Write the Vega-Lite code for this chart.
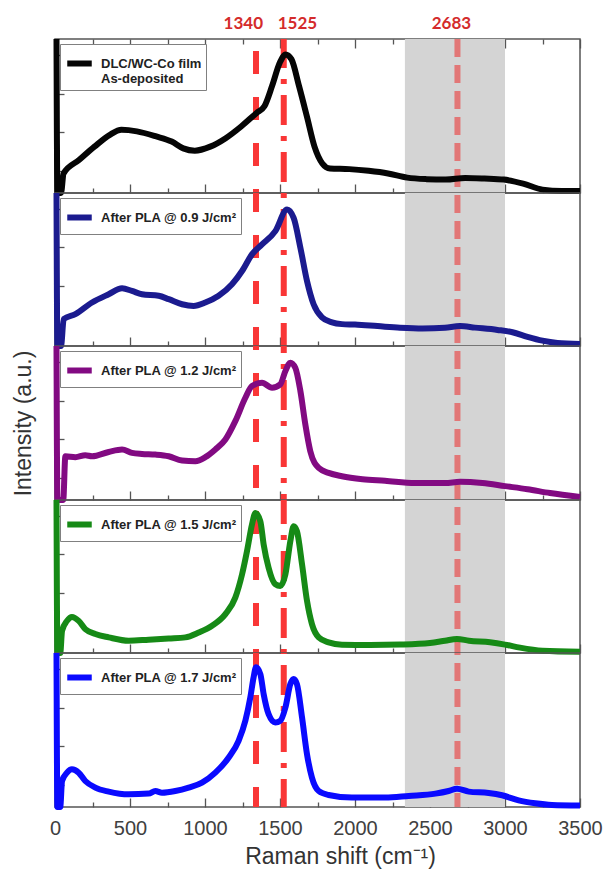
{
"$schema": "https://vega.github.io/schema/vega-lite/v6.json",
"autosize": {"type": "pad"},
"padding": {"left": 11, "top": 14, "right": 4, "bottom": 5},
"spacing": 0,
"bounds": "flush",
"datasets": {
"band": [{"x": 2333, "lo": 0, "hi": 1}, {"x": 3000, "lo": 0, "hi": 1}],
"peaks": [{"band": "D", "shift": 1340}, {"band": "G", "shift": 1525}, {"band": "2D", "shift": 2683}],
"p1": [{"x":10,"y":1.0},{"x":16,"y":0.0},{"x":40,"y":0.0},{"x":57,"y":0.127},{"x":160,"y":0.214},{"x":263,"y":0.301},{"x":366,"y":0.378},{"x":443,"y":0.41},{"x":546,"y":0.40},{"x":675,"y":0.367},{"x":778,"y":0.334},{"x":855,"y":0.29},{"x":932,"y":0.275},{"x":1035,"y":0.301},{"x":1138,"y":0.356},{"x":1241,"y":0.432},{"x":1344,"y":0.52},{"x":1396,"y":0.563},{"x":1447,"y":0.694},{"x":1499,"y":0.847},{"x":1537,"y":0.90},{"x":1576,"y":0.869},{"x":1627,"y":0.694},{"x":1679,"y":0.498},{"x":1730,"y":0.301},{"x":1782,"y":0.192},{"x":1833,"y":0.159},{"x":1962,"y":0.155},{"x":2091,"y":0.144},{"x":2220,"y":0.127},{"x":2348,"y":0.10},{"x":2477,"y":0.09},{"x":2606,"y":0.087},{"x":2735,"y":0.098},{"x":2863,"y":0.094},{"x":2992,"y":0.087},{"x":3121,"y":0.061},{"x":3250,"y":0.022},{"x":3378,"y":0.013},{"x":3500,"y":0.013}],
"p2": [{"x":10,"y":1.0},{"x":16,"y":0.0},{"x":40,"y":0.0},{"x":58,"y":0.176},{"x":136,"y":0.208},{"x":247,"y":0.284},{"x":358,"y":0.338},{"x":447,"y":0.377},{"x":513,"y":0.36},{"x":580,"y":0.338},{"x":691,"y":0.328},{"x":758,"y":0.306},{"x":847,"y":0.273},{"x":924,"y":0.262},{"x":1002,"y":0.284},{"x":1091,"y":0.328},{"x":1180,"y":0.403},{"x":1247,"y":0.49},{"x":1313,"y":0.599},{"x":1380,"y":0.664},{"x":1469,"y":0.751},{"x":1547,"y":0.892},{"x":1591,"y":0.837},{"x":1636,"y":0.642},{"x":1680,"y":0.425},{"x":1724,"y":0.273},{"x":1780,"y":0.187},{"x":1847,"y":0.154},{"x":1913,"y":0.143},{"x":2000,"y":0.14},{"x":2150,"y":0.13},{"x":2300,"y":0.12},{"x":2450,"y":0.115},{"x":2600,"y":0.12},{"x":2700,"y":0.13},{"x":2800,"y":0.12},{"x":2950,"y":0.105},{"x":3050,"y":0.09},{"x":3150,"y":0.06},{"x":3250,"y":0.035},{"x":3350,"y":0.02},{"x":3500,"y":0.013}],
"p3": [{"x":10,"y":1.0},{"x":16,"y":0.0},{"x":55,"y":0.0},{"x":69,"y":0.284},{"x":136,"y":0.278},{"x":202,"y":0.291},{"x":247,"y":0.284},{"x":358,"y":0.312},{"x":447,"y":0.328},{"x":513,"y":0.306},{"x":580,"y":0.299},{"x":669,"y":0.295},{"x":758,"y":0.284},{"x":847,"y":0.256},{"x":936,"y":0.252},{"x":1002,"y":0.278},{"x":1069,"y":0.328},{"x":1136,"y":0.393},{"x":1202,"y":0.512},{"x":1269,"y":0.664},{"x":1313,"y":0.74},{"x":1380,"y":0.761},{"x":1447,"y":0.729},{"x":1502,"y":0.751},{"x":1536,"y":0.837},{"x":1569,"y":0.892},{"x":1602,"y":0.859},{"x":1636,"y":0.707},{"x":1669,"y":0.49},{"x":1702,"y":0.317},{"x":1758,"y":0.208},{"x":1824,"y":0.176},{"x":1913,"y":0.154},{"x":2050,"y":0.135},{"x":2200,"y":0.125},{"x":2400,"y":0.11},{"x":2600,"y":0.11},{"x":2700,"y":0.118},{"x":2850,"y":0.11},{"x":3000,"y":0.09},{"x":3150,"y":0.07},{"x":3300,"y":0.045},{"x":3500,"y":0.02}],
"p4": [{"x":10,"y":1.0},{"x":16,"y":0.0},{"x":35,"y":0.0},{"x":47,"y":0.145},{"x":80,"y":0.21},{"x":113,"y":0.236},{"x":158,"y":0.21},{"x":202,"y":0.156},{"x":269,"y":0.124},{"x":358,"y":0.102},{"x":491,"y":0.08},{"x":624,"y":0.087},{"x":758,"y":0.095},{"x":869,"y":0.102},{"x":958,"y":0.134},{"x":1047,"y":0.178},{"x":1136,"y":0.254},{"x":1202,"y":0.362},{"x":1247,"y":0.514},{"x":1280,"y":0.666},{"x":1313,"y":0.839},{"x":1336,"y":0.915},{"x":1369,"y":0.861},{"x":1391,"y":0.709},{"x":1424,"y":0.557},{"x":1469,"y":0.449},{"x":1502,"y":0.438},{"x":1536,"y":0.514},{"x":1569,"y":0.731},{"x":1591,"y":0.829},{"x":1613,"y":0.796},{"x":1647,"y":0.579},{"x":1680,"y":0.341},{"x":1713,"y":0.189},{"x":1758,"y":0.102},{"x":1824,"y":0.069},{"x":1913,"y":0.054},{"x":2100,"y":0.052},{"x":2300,"y":0.055},{"x":2500,"y":0.065},{"x":2600,"y":0.08},{"x":2680,"y":0.092},{"x":2760,"y":0.08},{"x":2900,"y":0.07},{"x":3000,"y":0.055},{"x":3100,"y":0.035},{"x":3250,"y":0.015},{"x":3500,"y":0.008}],
"p5": [{"x":10,"y":1.0},{"x":16,"y":0.0},{"x":35,"y":0.0},{"x":47,"y":0.169},{"x":80,"y":0.223},{"x":113,"y":0.245},{"x":158,"y":0.223},{"x":202,"y":0.169},{"x":269,"y":0.126},{"x":358,"y":0.1},{"x":491,"y":0.082},{"x":624,"y":0.087},{"x":669,"y":0.104},{"x":713,"y":0.093},{"x":802,"y":0.104},{"x":891,"y":0.126},{"x":980,"y":0.158},{"x":1069,"y":0.223},{"x":1158,"y":0.321},{"x":1224,"y":0.43},{"x":1269,"y":0.56},{"x":1302,"y":0.711},{"x":1324,"y":0.842},{"x":1340,"y":0.907},{"x":1369,"y":0.863},{"x":1391,"y":0.733},{"x":1424,"y":0.603},{"x":1469,"y":0.549},{"x":1502,"y":0.56},{"x":1536,"y":0.646},{"x":1569,"y":0.798},{"x":1591,"y":0.831},{"x":1613,"y":0.798},{"x":1647,"y":0.581},{"x":1680,"y":0.343},{"x":1713,"y":0.191},{"x":1758,"y":0.104},{"x":1824,"y":0.078},{"x":1980,"y":0.061},{"x":2202,"y":0.061},{"x":2358,"y":0.072},{"x":2536,"y":0.087},{"x":2624,"y":0.104},{"x":2680,"y":0.119},{"x":2758,"y":0.1},{"x":2891,"y":0.091},{"x":2980,"y":0.076},{"x":3091,"y":0.043},{"x":3202,"y":0.024},{"x":3313,"y":0.013},{"x":3500,"y":0.009}]
},
"resolve": {"scale": {"color": "independent", "y": "independent"}, "legend": {"color": "independent"}},
"vconcat": [
{
"width": 525, "height": 154,
"resolve": {"axis": {"x": "independent"}},
"layer": [
{"data": {"name": "band"}, "mark": {"type": "area", "color": "#d4d4d4", "opacity": 1},
 "encoding": {"x": {"field": "x", "type": "quantitative", "scale": {"domain": [0, 3500], "nice": false},
   "axis": {"orient": "bottom", "values": [250,750,1250,1750,2250,2750,3250], "tickSize": -5, "labels": false, "title": null}},
  "y": {"field": "hi", "type": "quantitative", "scale": {"domain": [0, 1], "nice": false, "zero": false}, "axis": {"values": [0.143, 0.394, 0.645, 0.896], "tickSize": -9, "labels": false, "title": null}}, "y2": {"field": "lo"}}},
{"data": {"name": "band"}, "mark": {"type": "area", "color": "#d4d4d4", "opacity": 1},
 "encoding": {"x": {"field": "x", "type": "quantitative", "axis": null},
  "y": {"field": "hi", "type": "quantitative", "axis": {"values": [0.143, 0.394, 0.645, 0.896], "tickSize": -9, "labels": false, "title": null}}, "y2": {"field": "lo"}}},
{"data": {"name": "peaks"}, "transform": [{"filter": "datum.shift == 1340"}], "mark": {"type": "rule", "color": "#f93636", "strokeWidth": 6, "strokeDash": [23, 23], "strokeDashOffset": 34}, "encoding": {"x": {"field": "shift", "type": "quantitative", "axis": null}}},
{"data": {"name": "peaks"}, "transform": [{"filter": "datum.shift == 1525"}], "mark": {"type": "rule", "color": "#f93636", "strokeWidth": 6, "strokeDash": [30, 11, 5, 11], "strokeDashOffset": 1}, "encoding": {"x": {"field": "shift", "type": "quantitative", "axis": null}}},
{"data": {"name": "peaks"}, "transform": [{"filter": "datum.shift == 2683"}], "mark": {"type": "rule", "color": "#e27777", "strokeWidth": 6, "strokeDash": [18, 8], "strokeDashOffset": 0}, "encoding": {"x": {"field": "shift", "type": "quantitative", "axis": null}}},
{"data": {"name": "peaks"}, "transform": [{"filter": "datum.shift == 1340"}], "mark": {"type": "text", "font": "Lato", "fontWeight": "bold", "fontSize": 17, "color": "#d42b2b", "align": "right", "baseline": "alphabetic", "dx": 7}, "encoding": {"x": {"field": "shift", "type": "quantitative", "axis": {"orient": "top", "values": [0,500,1000,1500,2000,2500,3000,3500], "tickSize": -9, "labels": false, "title": null}}, "y": {"datum": 1.065, "type": "quantitative"}, "text": {"field": "shift", "type": "quantitative", "format": "d"}}},
{"data": {"name": "peaks"}, "transform": [{"filter": "datum.shift == 1525"}], "mark": {"type": "text", "font": "Lato", "fontWeight": "bold", "fontSize": 17, "color": "#d42b2b", "align": "left", "baseline": "alphabetic", "dx": -6}, "encoding": {"x": {"field": "shift", "type": "quantitative", "axis": {"orient": "top", "values": [250,750,1250,1750,2250,2750,3250], "tickSize": -5, "labels": false, "title": null}}, "y": {"datum": 1.065, "type": "quantitative"}, "text": {"field": "shift", "type": "quantitative", "format": "d"}}},
{"data": {"name": "peaks"}, "transform": [{"filter": "datum.shift == 2683"}], "mark": {"type": "text", "font": "Lato", "fontWeight": "bold", "fontSize": 17, "color": "#d42b2b", "align": "center", "baseline": "alphabetic", "dx": -6}, "encoding": {"x": {"field": "shift", "type": "quantitative", "axis": null}, "y": {"datum": 1.065, "type": "quantitative"}, "text": {"field": "shift", "type": "quantitative", "format": "d"}}},
{"data": {"name": "p1"}, "mark": {"type": "line", "strokeWidth": 6, "interpolate": "monotone", "strokeJoin": "round"},
 "encoding": {
  "x": {"field": "x", "type": "quantitative", "scale": {"domain": [0, 3500], "nice": false},
   "axis": {"orient": "bottom", "values": [0,500,1000,1500,2000,2500,3000,3500], "tickSize": -9, "labels": false, "title": null}},
  "y": {"field": "y", "type": "quantitative", "scale": {"domain": [0, 1], "nice": false, "zero": false},
   "axis": {"values": [0.143, 0.394, 0.645, 0.896], "tickSize": -9, "labels": false, "title": null}},
  "color": {"datum": "DLC/WC-Co film", "scale": {"range": ["#050505"]}, "legend": {"labelExpr": "['DLC/WC-Co film', 'As-deposited']"}}}}
]
},
{
"width": 525, "height": 153,
"resolve": {"axis": {"x": "independent"}},
"layer": [
{"data": {"name": "band"}, "mark": {"type": "area", "color": "#d4d4d4", "opacity": 1}, "encoding": {"x": {"field": "x", "type": "quantitative", "scale": {"domain": [0, 3500], "nice": false}, "axis": {"orient": "bottom", "values": [250,750,1250,1750,2250,2750,3250], "tickSize": -5, "labels": false, "title": null}}, "y": {"field": "hi", "type": "quantitative", "scale": {"domain": [0, 1], "nice": false, "zero": false}, "axis": {"values": [0.143, 0.394, 0.645, 0.896], "tickSize": -9, "labels": false, "title": null}}, "y2": {"field": "lo"}}},
{"data": {"name": "band"}, "mark": {"type": "area", "color": "#d4d4d4", "opacity": 1}, "encoding": {"x": {"field": "x", "type": "quantitative", "axis": null}, "y": {"field": "hi", "type": "quantitative", "axis": {"values": [0.143, 0.394, 0.645, 0.896], "tickSize": -9, "labels": false, "title": null}}, "y2": {"field": "lo"}}},
{"data": {"name": "peaks"}, "transform": [{"filter": "datum.shift == 1340"}], "mark": {"type": "rule", "color": "#f93636", "strokeWidth": 6, "strokeDash": [23, 23], "strokeDashOffset": 4}, "encoding": {"x": {"field": "shift", "type": "quantitative", "axis": null}}},
{"data": {"name": "peaks"}, "transform": [{"filter": "datum.shift == 1525"}], "mark": {"type": "rule", "color": "#f93636", "strokeWidth": 6, "strokeDash": [30, 11, 5, 11], "strokeDashOffset": 41}, "encoding": {"x": {"field": "shift", "type": "quantitative", "axis": null}}},
{"data": {"name": "peaks"}, "transform": [{"filter": "datum.shift == 2683"}], "mark": {"type": "rule", "color": "#e27777", "strokeWidth": 6, "strokeDash": [18, 8], "strokeDashOffset": 24}, "encoding": {"x": {"field": "shift", "type": "quantitative", "axis": null}}},
{"data": {"name": "p2"}, "mark": {"type": "line", "strokeWidth": 6, "interpolate": "monotone", "strokeJoin": "round"},
 "encoding": {
  "x": {"field": "x", "type": "quantitative", "scale": {"domain": [0, 3500], "nice": false},
   "axis": {"orient": "bottom", "values": [0,500,1000,1500,2000,2500,3000,3500], "tickSize": -9, "labels": false, "title": null}},
  "y": {"field": "y", "type": "quantitative", "scale": {"domain": [0, 1], "nice": false, "zero": false},
   "axis": {"values": [0.143, 0.394, 0.645, 0.896], "tickSize": -9, "labels": false, "title": null}},
  "color": {"datum": "After PLA @ 0.9 J/cm²", "scale": {"range": ["#1b1b8f"]}}}}
]
},
{
"width": 525, "height": 154,
"resolve": {"axis": {"x": "independent"}},
"layer": [
{"data": {"name": "band"}, "mark": {"type": "area", "color": "#d4d4d4", "opacity": 1}, "encoding": {"x": {"field": "x", "type": "quantitative", "scale": {"domain": [0, 3500], "nice": false}, "axis": {"orient": "bottom", "values": [250,750,1250,1750,2250,2750,3250], "tickSize": -5, "labels": false, "title": null}}, "y": {"field": "hi", "type": "quantitative", "scale": {"domain": [0, 1], "nice": false, "zero": false}, "axis": {"values": [0.143, 0.394, 0.645, 0.896], "tickSize": -9, "labels": false, "title": "Intensity (a.u.)", "titleFontSize": 23, "titleFontWeight": "normal", "titleColor": "#333333", "titlePadding": 19}}, "y2": {"field": "lo"}}},
{"data": {"name": "band"}, "mark": {"type": "area", "color": "#d4d4d4", "opacity": 1}, "encoding": {"x": {"field": "x", "type": "quantitative", "axis": null}, "y": {"field": "hi", "type": "quantitative", "axis": {"values": [0.143, 0.394, 0.645, 0.896], "tickSize": -9, "labels": false, "title": "Intensity (a.u.)", "titleFontSize": 23, "titleFontWeight": "normal", "titleColor": "#333333", "titlePadding": 19}}, "y2": {"field": "lo"}}},
{"data": {"name": "peaks"}, "transform": [{"filter": "datum.shift == 1340"}], "mark": {"type": "rule", "color": "#f93636", "strokeWidth": 6, "strokeDash": [23, 23], "strokeDashOffset": 19}, "encoding": {"x": {"field": "shift", "type": "quantitative", "axis": null}}},
{"data": {"name": "peaks"}, "transform": [{"filter": "datum.shift == 1525"}], "mark": {"type": "rule", "color": "#f93636", "strokeWidth": 6, "strokeDash": [30, 11, 5, 11], "strokeDashOffset": 23}, "encoding": {"x": {"field": "shift", "type": "quantitative", "axis": null}}},
{"data": {"name": "peaks"}, "transform": [{"filter": "datum.shift == 2683"}], "mark": {"type": "rule", "color": "#e27777", "strokeWidth": 6, "strokeDash": [18, 8], "strokeDashOffset": 21}, "encoding": {"x": {"field": "shift", "type": "quantitative", "axis": null}}},
{"data": {"name": "p3"}, "mark": {"type": "line", "strokeWidth": 6, "interpolate": "monotone", "strokeJoin": "round"},
 "encoding": {
  "x": {"field": "x", "type": "quantitative", "scale": {"domain": [0, 3500], "nice": false},
   "axis": {"orient": "bottom", "values": [0,500,1000,1500,2000,2500,3000,3500], "tickSize": -9, "labels": false, "title": null}},
  "y": {"field": "y", "type": "quantitative", "scale": {"domain": [0, 1], "nice": false, "zero": false},
   "axis": {"values": [0.143, 0.394, 0.645, 0.896], "tickSize": -9, "labels": false, "title": "Intensity (a.u.)", "titleFontSize": 23, "titleFontWeight": "normal", "titleColor": "#333333", "titlePadding": 19}},
  "color": {"datum": "After PLA @ 1.2 J/cm²", "scale": {"range": ["#820a82"]}}}}
]
},
{
"width": 525, "height": 153,
"resolve": {"axis": {"x": "independent"}},
"layer": [
{"data": {"name": "band"}, "mark": {"type": "area", "color": "#d4d4d4", "opacity": 1}, "encoding": {"x": {"field": "x", "type": "quantitative", "scale": {"domain": [0, 3500], "nice": false}, "axis": {"orient": "bottom", "values": [250,750,1250,1750,2250,2750,3250], "tickSize": -5, "labels": false, "title": null}}, "y": {"field": "hi", "type": "quantitative", "scale": {"domain": [0, 1], "nice": false, "zero": false}, "axis": {"values": [0.143, 0.394, 0.645, 0.896], "tickSize": -9, "labels": false, "title": null}}, "y2": {"field": "lo"}}},
{"data": {"name": "band"}, "mark": {"type": "area", "color": "#d4d4d4", "opacity": 1}, "encoding": {"x": {"field": "x", "type": "quantitative", "axis": null}, "y": {"field": "hi", "type": "quantitative", "axis": {"values": [0.143, 0.394, 0.645, 0.896], "tickSize": -9, "labels": false, "title": null}}, "y2": {"field": "lo"}}},
{"data": {"name": "peaks"}, "transform": [{"filter": "datum.shift == 1340"}], "mark": {"type": "rule", "color": "#f93636", "strokeWidth": 6, "strokeDash": [23, 23], "strokeDashOffset": 35}, "encoding": {"x": {"field": "shift", "type": "quantitative", "axis": null}}},
{"data": {"name": "peaks"}, "transform": [{"filter": "datum.shift == 1525"}], "mark": {"type": "rule", "color": "#f93636", "strokeWidth": 6, "strokeDash": [30, 11, 5, 11], "strokeDashOffset": 6}, "encoding": {"x": {"field": "shift", "type": "quantitative", "axis": null}}},
{"data": {"name": "peaks"}, "transform": [{"filter": "datum.shift == 2683"}], "mark": {"type": "rule", "color": "#e27777", "strokeWidth": 6, "strokeDash": [18, 8], "strokeDashOffset": 19}, "encoding": {"x": {"field": "shift", "type": "quantitative", "axis": null}}},
{"data": {"name": "p4"}, "mark": {"type": "line", "strokeWidth": 6, "interpolate": "monotone", "strokeJoin": "round"},
 "encoding": {
  "x": {"field": "x", "type": "quantitative", "scale": {"domain": [0, 3500], "nice": false},
   "axis": {"orient": "bottom", "values": [0,500,1000,1500,2000,2500,3000,3500], "tickSize": -9, "labels": false, "title": null}},
  "y": {"field": "y", "type": "quantitative", "scale": {"domain": [0, 1], "nice": false, "zero": false},
   "axis": {"values": [0.143, 0.394, 0.645, 0.896], "tickSize": -9, "labels": false, "title": null}},
  "color": {"datum": "After PLA @ 1.5 J/cm²", "scale": {"range": ["#168a16"]}}}}
]
},
{
"width": 525, "height": 154,
"resolve": {"axis": {"x": "independent"}},
"layer": [
{"data": {"name": "band"}, "mark": {"type": "area", "color": "#d4d4d4", "opacity": 1}, "encoding": {"x": {"field": "x", "type": "quantitative", "scale": {"domain": [0, 3500], "nice": false}, "axis": {"orient": "bottom", "values": [250,750,1250,1750,2250,2750,3250], "tickSize": -5, "labels": false, "title": null}}, "y": {"field": "hi", "type": "quantitative", "scale": {"domain": [0, 1], "nice": false, "zero": false}, "axis": {"values": [0.143, 0.394, 0.645, 0.896], "tickSize": -9, "labels": false, "title": null}}, "y2": {"field": "lo"}}},
{"data": {"name": "band"}, "mark": {"type": "area", "color": "#d4d4d4", "opacity": 1}, "encoding": {"x": {"field": "x", "type": "quantitative", "axis": null}, "y": {"field": "hi", "type": "quantitative", "axis": {"values": [0.143, 0.394, 0.645, 0.896], "tickSize": -9, "labels": false, "title": null}}, "y2": {"field": "lo"}}},
{"data": {"name": "peaks"}, "transform": [{"filter": "datum.shift == 1340"}], "mark": {"type": "rule", "color": "#f93636", "strokeWidth": 6, "strokeDash": [23, 23], "strokeDashOffset": 4}, "encoding": {"x": {"field": "shift", "type": "quantitative", "axis": null}}},
{"data": {"name": "peaks"}, "transform": [{"filter": "datum.shift == 1525"}], "mark": {"type": "rule", "color": "#f93636", "strokeWidth": 6, "strokeDash": [30, 11, 5, 11], "strokeDashOffset": 45}, "encoding": {"x": {"field": "shift", "type": "quantitative", "axis": null}}},
{"data": {"name": "peaks"}, "transform": [{"filter": "datum.shift == 2683"}], "mark": {"type": "rule", "color": "#e27777", "strokeWidth": 6, "strokeDash": [18, 8], "strokeDashOffset": 16}, "encoding": {"x": {"field": "shift", "type": "quantitative", "axis": null}}},
{"data": {"name": "p5"}, "mark": {"type": "line", "strokeWidth": 6, "interpolate": "monotone", "strokeJoin": "round"},
 "encoding": {
  "x": {"field": "x", "type": "quantitative", "scale": {"domain": [0, 3500], "nice": false},
   "axis": {"orient": "bottom", "values": [0,500,1000,1500,2000,2500,3000,3500], "tickSize": -9, "labels": true, "format": "d", "labelFlush": false, "labelOverlap": false, "labelPadding": 20, "labelFontSize": 20, "labelColor": "#404040", "title": "Raman shift (cm⁻¹)", "titleFontSize": 23, "titleFontWeight": "normal", "titleColor": "#333333", "titlePadding": 7, "titleX": 285, "titleAlign": "center"}},
  "y": {"field": "y", "type": "quantitative", "scale": {"domain": [0, 1], "nice": false, "zero": false},
   "axis": {"values": [0.143, 0.394, 0.645, 0.896], "tickSize": -9, "labels": false, "title": null}},
  "color": {"datum": "After PLA @ 1.7 J/cm²", "scale": {"range": ["#0a0aff"]}}}}
]
}
],
"config": {
 "font": "Liberation Sans",
 "view": {"stroke": "#555555", "strokeWidth": 1.5},
 "axis": {"grid": false, "domain": false, "tickColor": "#555555", "tickWidth": 1.3, "labelFont": "Liberation Sans", "titleFont": "Liberation Sans"},
 "legend": {"orient": "top-left", "offset": 5, "title": null, "strokeColor": "#808080", "fillColor": "white", "padding": 4, "symbolType": "stroke", "symbolStrokeWidth": 6, "symbolSize": 600, "labelFont": "Liberation Sans", "labelFontWeight": "bold", "labelFontSize": 13, "labelColor": "#222222", "labelOffset": 6}
}
}
